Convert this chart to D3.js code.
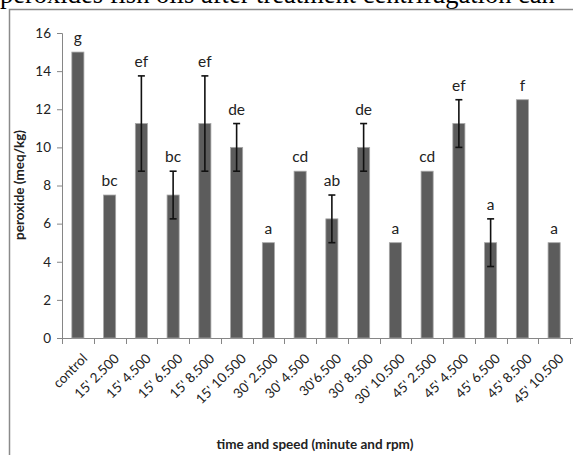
<!DOCTYPE html>
<html>
<head>
<meta charset="utf-8">
<script src="https://cdn.jsdelivr.net/npm/d3@7"></script>
<style>
  body { margin: 0; background: #fff; }
  svg { display: block; }
</style>
</head>
<body>
<svg width="573" height="455"></svg>
<script>
// peroxide values per treatment
var categories = ["control", "15' 2.500", "15' 4.500", "15' 6.500", "15' 8.500", "15' 10.500",
  "30' 2.500", "30' 4.500", "30'6.500", "30' 8.500", "30' 10.500",
  "45' 2.500", "45' 4.500", "45' 6.500", "45' 8.500", "45' 10.500"];
var values = [15, 7.5, 11.25, 7.5, 11.25, 10, 5, 8.75, 6.25, 10, 5, 8.75, 11.25, 5, 12.5, 5];
var errors = [0, 0, 2.5, 1.25, 2.5, 1.25, 0, 0, 1.25, 1.25, 0, 0, 1.25, 1.25, 0, 0];
var letters = ["g", "bc", "ef", "bc", "ef", "de", "a", "cd", "ab", "de", "a", "cd", "ef", "a", "f", "a"];
var yTicks = [0, 2, 4, 6, 8, 10, 12, 14, 16];

var svg = d3.select("svg");
var font = "Lato, 'Open Sans', sans-serif";

// heading is cut off at the top edge, as in the source
svg.append("text")
  .attr("x", 0).attr("y", 3)
  .style("font-family", "'Liberation Serif', serif")
  .style("font-size", "26.5px")
  .text("peroxides fish oils after treatment centrifugation can");

svg.append("path")
  .attr("d", "M9.5,455V9.5H573")
  .style("fill", "none")
  .style("stroke", "#8a8a8a")
  .style("stroke-width", "1.5px");

var x = d3.scaleBand().domain(categories).range([62, 570]).paddingInner(0.62).paddingOuter(0.31);
var y = d3.scaleLinear().domain([0, 16]).range([338, 33]);

// y axis
var yAxis = svg.append("g")
  .attr("transform", "translate(62,0)")
  .call(d3.axisLeft(y).tickValues(yTicks).tickSize(5).tickPadding(6));
yAxis.select(".domain").style("stroke", "#868686");
yAxis.selectAll(".tick line").style("stroke", "#868686");
yAxis.selectAll("text").style("font-family", font).style("font-size", "13.5px").style("fill", "#222");

// x axis line with boundary ticks
var step = x.step();
var bounds = d3.range(categories.length + 1).map(function(i) { return 62 + i * step; });
svg.append("line")
  .attr("x1", 62).attr("x2", 573).attr("y1", 338.5).attr("y2", 338.5)
  .style("stroke", "#868686");
svg.selectAll(".xtick").data(bounds).enter().append("line")
  .attr("class", "xtick")
  .attr("x1", function(d) { return Math.round(d) + 0.5; })
  .attr("x2", function(d) { return Math.round(d) + 0.5; })
  .attr("y1", 338).attr("y2", 344)
  .style("stroke", "#868686");

svg.selectAll(".xlabel").data(categories).enter().append("text")
  .attr("class", "xlabel")
  .attr("transform", function(d) { return "translate(" + (x(d) + x.bandwidth() / 2 + 7) + ",356) rotate(-45)"; })
  .attr("text-anchor", "end")
  .attr("dy", "0.35em")
  .style("font-family", font)
  .style("font-size", "13.5px")
  .style("fill", "#222")
  .text(function(d) { return d; });

// bars
svg.selectAll(".bar").data(values).enter().append("rect")
  .attr("class", "bar")
  .attr("x", function(d, i) { return x(categories[i]); })
  .attr("y", function(d) { return y(d); })
  .attr("width", x.bandwidth())
  .attr("height", function(d) { return y(0) - y(d); })
  .style("fill", "#5c5c5c")
  .style("stroke", "#a6a6a6")
  .style("stroke-width", "0.8px");

// error bars
var errData = values.map(function(v, i) { return { i: i, v: v, e: errors[i] }; })
  .filter(function(d) { return d.e > 0; });
var eb = svg.selectAll(".err").data(errData).enter().append("g").attr("class", "err")
  .style("stroke", "#111").style("stroke-width", "1.6px");
eb.append("line")
  .attr("x1", function(d) { return x(categories[d.i]) + x.bandwidth() / 2; })
  .attr("x2", function(d) { return x(categories[d.i]) + x.bandwidth() / 2; })
  .attr("y1", function(d) { return y(d.v + d.e); })
  .attr("y2", function(d) { return y(d.v - d.e); });
[1, -1].forEach(function(s) {
  eb.append("line")
    .attr("x1", function(d) { return x(categories[d.i]) + x.bandwidth() / 2 - 3.5; })
    .attr("x2", function(d) { return x(categories[d.i]) + x.bandwidth() / 2 + 3.5; })
    .attr("y1", function(d) { return y(d.v + s * d.e); })
    .attr("y2", function(d) { return y(d.v + s * d.e); });
});

// significance letters
svg.selectAll(".letter").data(letters).enter().append("text")
  .attr("class", "letter")
  .attr("x", function(d, i) { return x(categories[i]) + x.bandwidth() / 2; })
  .attr("y", function(d, i) { return y(values[i] + errors[i]) - 9; })
  .attr("text-anchor", "middle")
  .style("font-family", font)
  .style("font-size", "15.5px")
  .style("fill", "#222")
  .text(function(d) { return d; });

// axis titles
svg.append("text")
  .attr("transform", "translate(24,185) rotate(-90)")
  .attr("text-anchor", "middle")
  .style("font-family", font)
  .style("font-size", "13.5px")
  .style("font-weight", "bold")
  .style("fill", "#222")
  .text("peroxide (meq/kg)");

svg.append("text")
  .attr("x", 315).attr("y", 449)
  .attr("text-anchor", "middle")
  .style("font-family", font)
  .style("font-size", "13.5px")
  .style("font-weight", "bold")
  .style("fill", "#222")
  .text("time and speed (minute and rpm)");
</script>
</body>
</html>
